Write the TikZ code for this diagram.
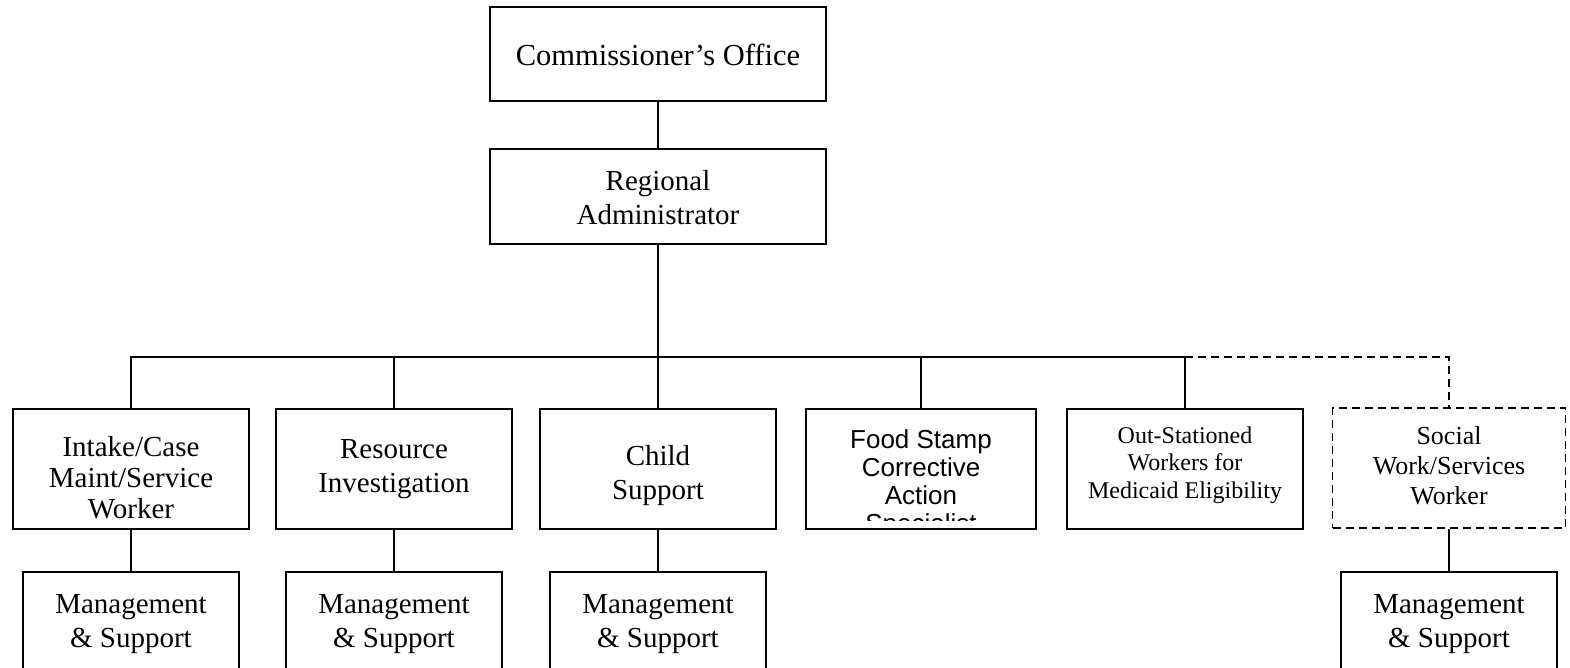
\documentclass[tikz,border=0pt]{standalone}
\usepackage{fontspec}
\setmainfont{Liberation Serif}
\newfontfamily\arialfont{Liberation Sans}
\begin{document}
\begin{tikzpicture}[x=1pt,y=-1pt,
  box/.style={draw=black, line width=1.8pt, rectangle, inner sep=0pt},
  dbox/.style={box, dash pattern=on 8pt off 5pt},
  txt/.style={align=center, inner sep=0pt},
  link/.style={draw=black, line width=1.8pt},
  dlink/.style={link, dash pattern=on 8pt off 5pt},
  big/.style={font=\fontsize{30.5}{35}\selectfont},
  norm/.style={font=\fontsize{29}{34}\selectfont}
]
\clip (0,0) rectangle (1570,668);
\fill[white] (0,0) rectangle (1570,668);

% top of the chart
\node[box, minimum width=336, minimum height=94] (comm) at (658,54) {};
\node[txt, big] (comm-t) at (658,55) {Commissioner’s Office};
\node[box, minimum width=336, minimum height=95] (reg) at (658,196.5) {};
\node[txt, norm] (reg-t) at (658,198) {Regional\\Administrator};

% units
\node[box, minimum width=236, minimum height=120] (intake) at (131,469) {};
\node[txt, font=\fontsize{29}{31}\selectfont] (intake-t) at (131,478) {Intake/Case\\Maint/Service\\Worker};

\node[box, minimum width=236, minimum height=120] (res) at (394,469) {};
\node[txt, norm] (res-t) at (394,469) {Resource\\Investigation};

\node[box, minimum width=236, minimum height=120] (child) at (658,469) {};
\node[txt, norm] (child-t) at (658,476) {Child\\Support};

\node[box, minimum width=230, minimum height=120] (food) at (921,469) {};
\begin{scope}
  \clip (806,409) rectangle (1036,520.5);
  \node[txt, font=\arialfont\fontsize{26}{28}\selectfont, anchor=north] (food-t) at (921,429)
    {Food Stamp\\Corrective\\Action\\Specialist};
\end{scope}

\node[box, minimum width=236, minimum height=120] (out) at (1185,469) {};
\node[txt, font=\fontsize{24}{27.5}\selectfont] (out-t) at (1185,465) {Out-Stationed\\Workers for\\Medicaid Eligibility};

\node[dbox, minimum width=233, minimum height=120] (soc) at (1449,468) {};
\node[txt, font=\fontsize{26}{30}\selectfont] (soc-t) at (1449,466) {Social\\Work/Services\\Worker};

% support units (run past the lower edge)
\node[box, minimum width=216, minimum height=100] (m1) at (131,622) {};
\node[txt, norm] (m1-t) at (131,624) {Management\\\& Support};
\node[box, minimum width=216, minimum height=100] (m2) at (394,622) {};
\node[txt, norm] (m2-t) at (394,624) {Management\\\& Support};
\node[box, minimum width=216, minimum height=100] (m3) at (658,622) {};
\node[txt, norm] (m3-t) at (658,624) {Management\\\& Support};
\node[box, minimum width=216, minimum height=100] (m4) at (1449,622) {};
\node[txt, norm] (m4-t) at (1449,624) {Management\\\& Support};

% connectors
\coordinate (bar) at (658,357);
\draw[link] (comm.south) -- (reg.north);
\draw[link] (reg.south) -- (child.north);
\draw[link] (intake.north) -- (intake.north |- bar) -- (out.north |- bar) -- (out.north);
\draw[link] (res.north |- bar) -- (res.north);
\draw[link] (food.north |- bar) -- (food.north);
\draw[dlink] (out.north |- bar) -| (soc.north);

\draw[link] (intake.south) -- (m1.north);
\draw[link] (res.south) -- (m2.north);
\draw[link] (child.south) -- (m3.north);
\draw[link] (soc.south) -- (m4.north);
\end{tikzpicture}
\end{document}
